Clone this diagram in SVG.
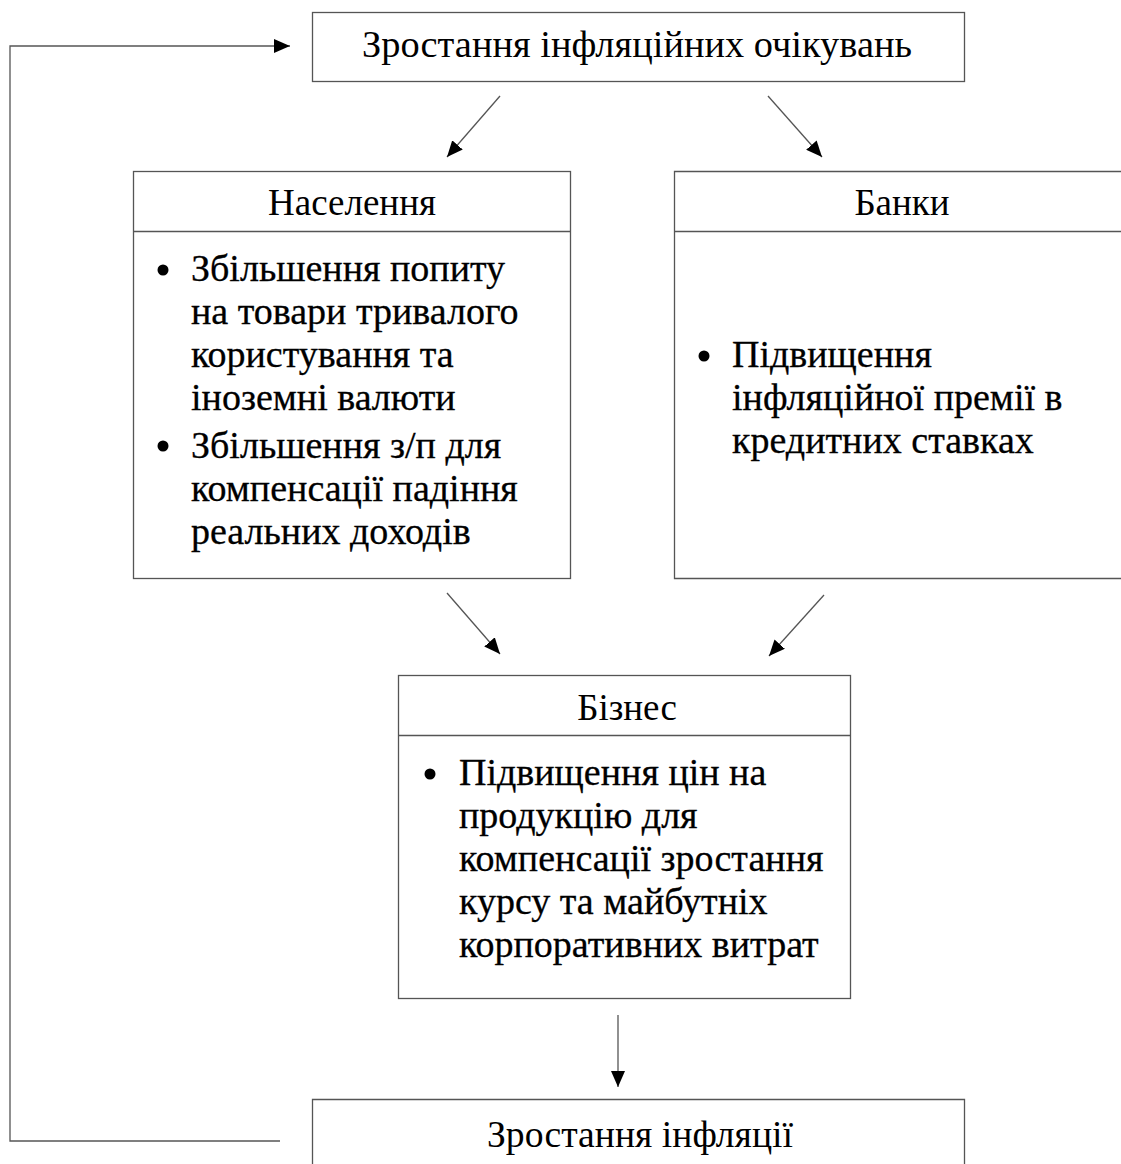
<svg xmlns="http://www.w3.org/2000/svg" width="1121" height="1164" viewBox="0 0 1121 1164">
<style>
.box{fill:#fff;stroke:#555;stroke-width:1.3}
.div{stroke:#555;stroke-width:1.3}
.con{fill:none;stroke:#555;stroke-width:1.3}
.t{font-family:"Liberation Serif","Times New Roman",serif;fill:#000}
.title{font-size:38px;text-anchor:middle}
.hdr{font-size:37px;text-anchor:middle}
.body{font-size:38px;stroke:#000;stroke-width:0.3}
.bul{fill:#000}
</style>
<defs>
<marker id="ah" markerUnits="userSpaceOnUse" markerWidth="17" markerHeight="14" refX="16" refY="7" orient="auto">
<path d="M0,0 L16,7 L0,14 z" fill="#000"/>
</marker>
</defs>
<rect width="1121" height="1164" fill="#fff"/>
<g id="connectors">
<path class="con" d="M280,1141 H10 V46 H290" marker-end="url(#ah)"/>
<line class="con" x1="500" y1="96" x2="447" y2="157" marker-end="url(#ah)"/>
<line class="con" x1="768" y1="96" x2="822" y2="157" marker-end="url(#ah)"/>
<line class="con" x1="447" y1="593" x2="500" y2="654" marker-end="url(#ah)"/>
<line class="con" x1="824" y1="595" x2="769" y2="656" marker-end="url(#ah)"/>
<line class="con" x1="618" y1="1015" x2="618" y2="1087" marker-end="url(#ah)"/>
</g>
<g id="node-expectations">
<rect class="box" x="312.5" y="12.5" width="652" height="69"/>
<text class="t title" x="637" y="57" textLength="550" lengthAdjust="spacingAndGlyphs">Зростання інфляційних очікувань</text>
</g>
<g id="node-population">
<rect class="box" x="133.5" y="171.5" width="437" height="407"/>
<line class="div" x1="133.5" y1="231.5" x2="570.5" y2="231.5"/>
<text class="t hdr" x="352" y="215">Населення</text>
<circle class="bul" cx="163" cy="270" r="5.5"/>
<circle class="bul" cx="163" cy="446" r="5.5"/>
<text class="t body" x="191" y="281">Збільшення попиту</text>
<text class="t body" x="191" y="324">на товари тривалого</text>
<text class="t body" x="191" y="367">користування та</text>
<text class="t body" x="191" y="410">іноземні валюти</text>
<text class="t body" x="191" y="458">Збільшення з/п для</text>
<text class="t body" x="191" y="501">компенсації падіння</text>
<text class="t body" x="191" y="544">реальних доходів</text>
</g>
<g id="node-banks">
<path class="con" d="M1125,171.5 H674.5 V578.5 H1125"/>
<line class="div" x1="674.5" y1="231.5" x2="1125" y2="231.5"/>
<text class="t hdr" x="902" y="215">Банки</text>
<circle class="bul" cx="704" cy="356" r="5.5"/>
<text class="t body" x="732" y="367">Підвищення</text>
<text class="t body" x="732" y="410">інфляційної премії в</text>
<text class="t body" x="732" y="453">кредитних ставках</text>
</g>
<g id="node-business">
<rect class="box" x="398.5" y="675.5" width="452" height="323"/>
<line class="div" x1="398.5" y1="735.5" x2="850.5" y2="735.5"/>
<text class="t hdr" x="627" y="720">Бізнес</text>
<circle class="bul" cx="430" cy="774" r="5.5"/>
<text class="t body" x="459" y="785">Підвищення цін на</text>
<text class="t body" x="459" y="828">продукцію для</text>
<text class="t body" x="459" y="871">компенсації зростання</text>
<text class="t body" x="459" y="914">курсу та майбутніх</text>
<text class="t body" x="459" y="957">корпоративних витрат</text>
</g>
<g id="node-inflation">
<path class="con" d="M312.5,1170 V1099.5 H964.5 V1170"/>
<text class="t title" x="640" y="1147" textLength="306" lengthAdjust="spacingAndGlyphs">Зростання інфляції</text>
</g>
</svg>
